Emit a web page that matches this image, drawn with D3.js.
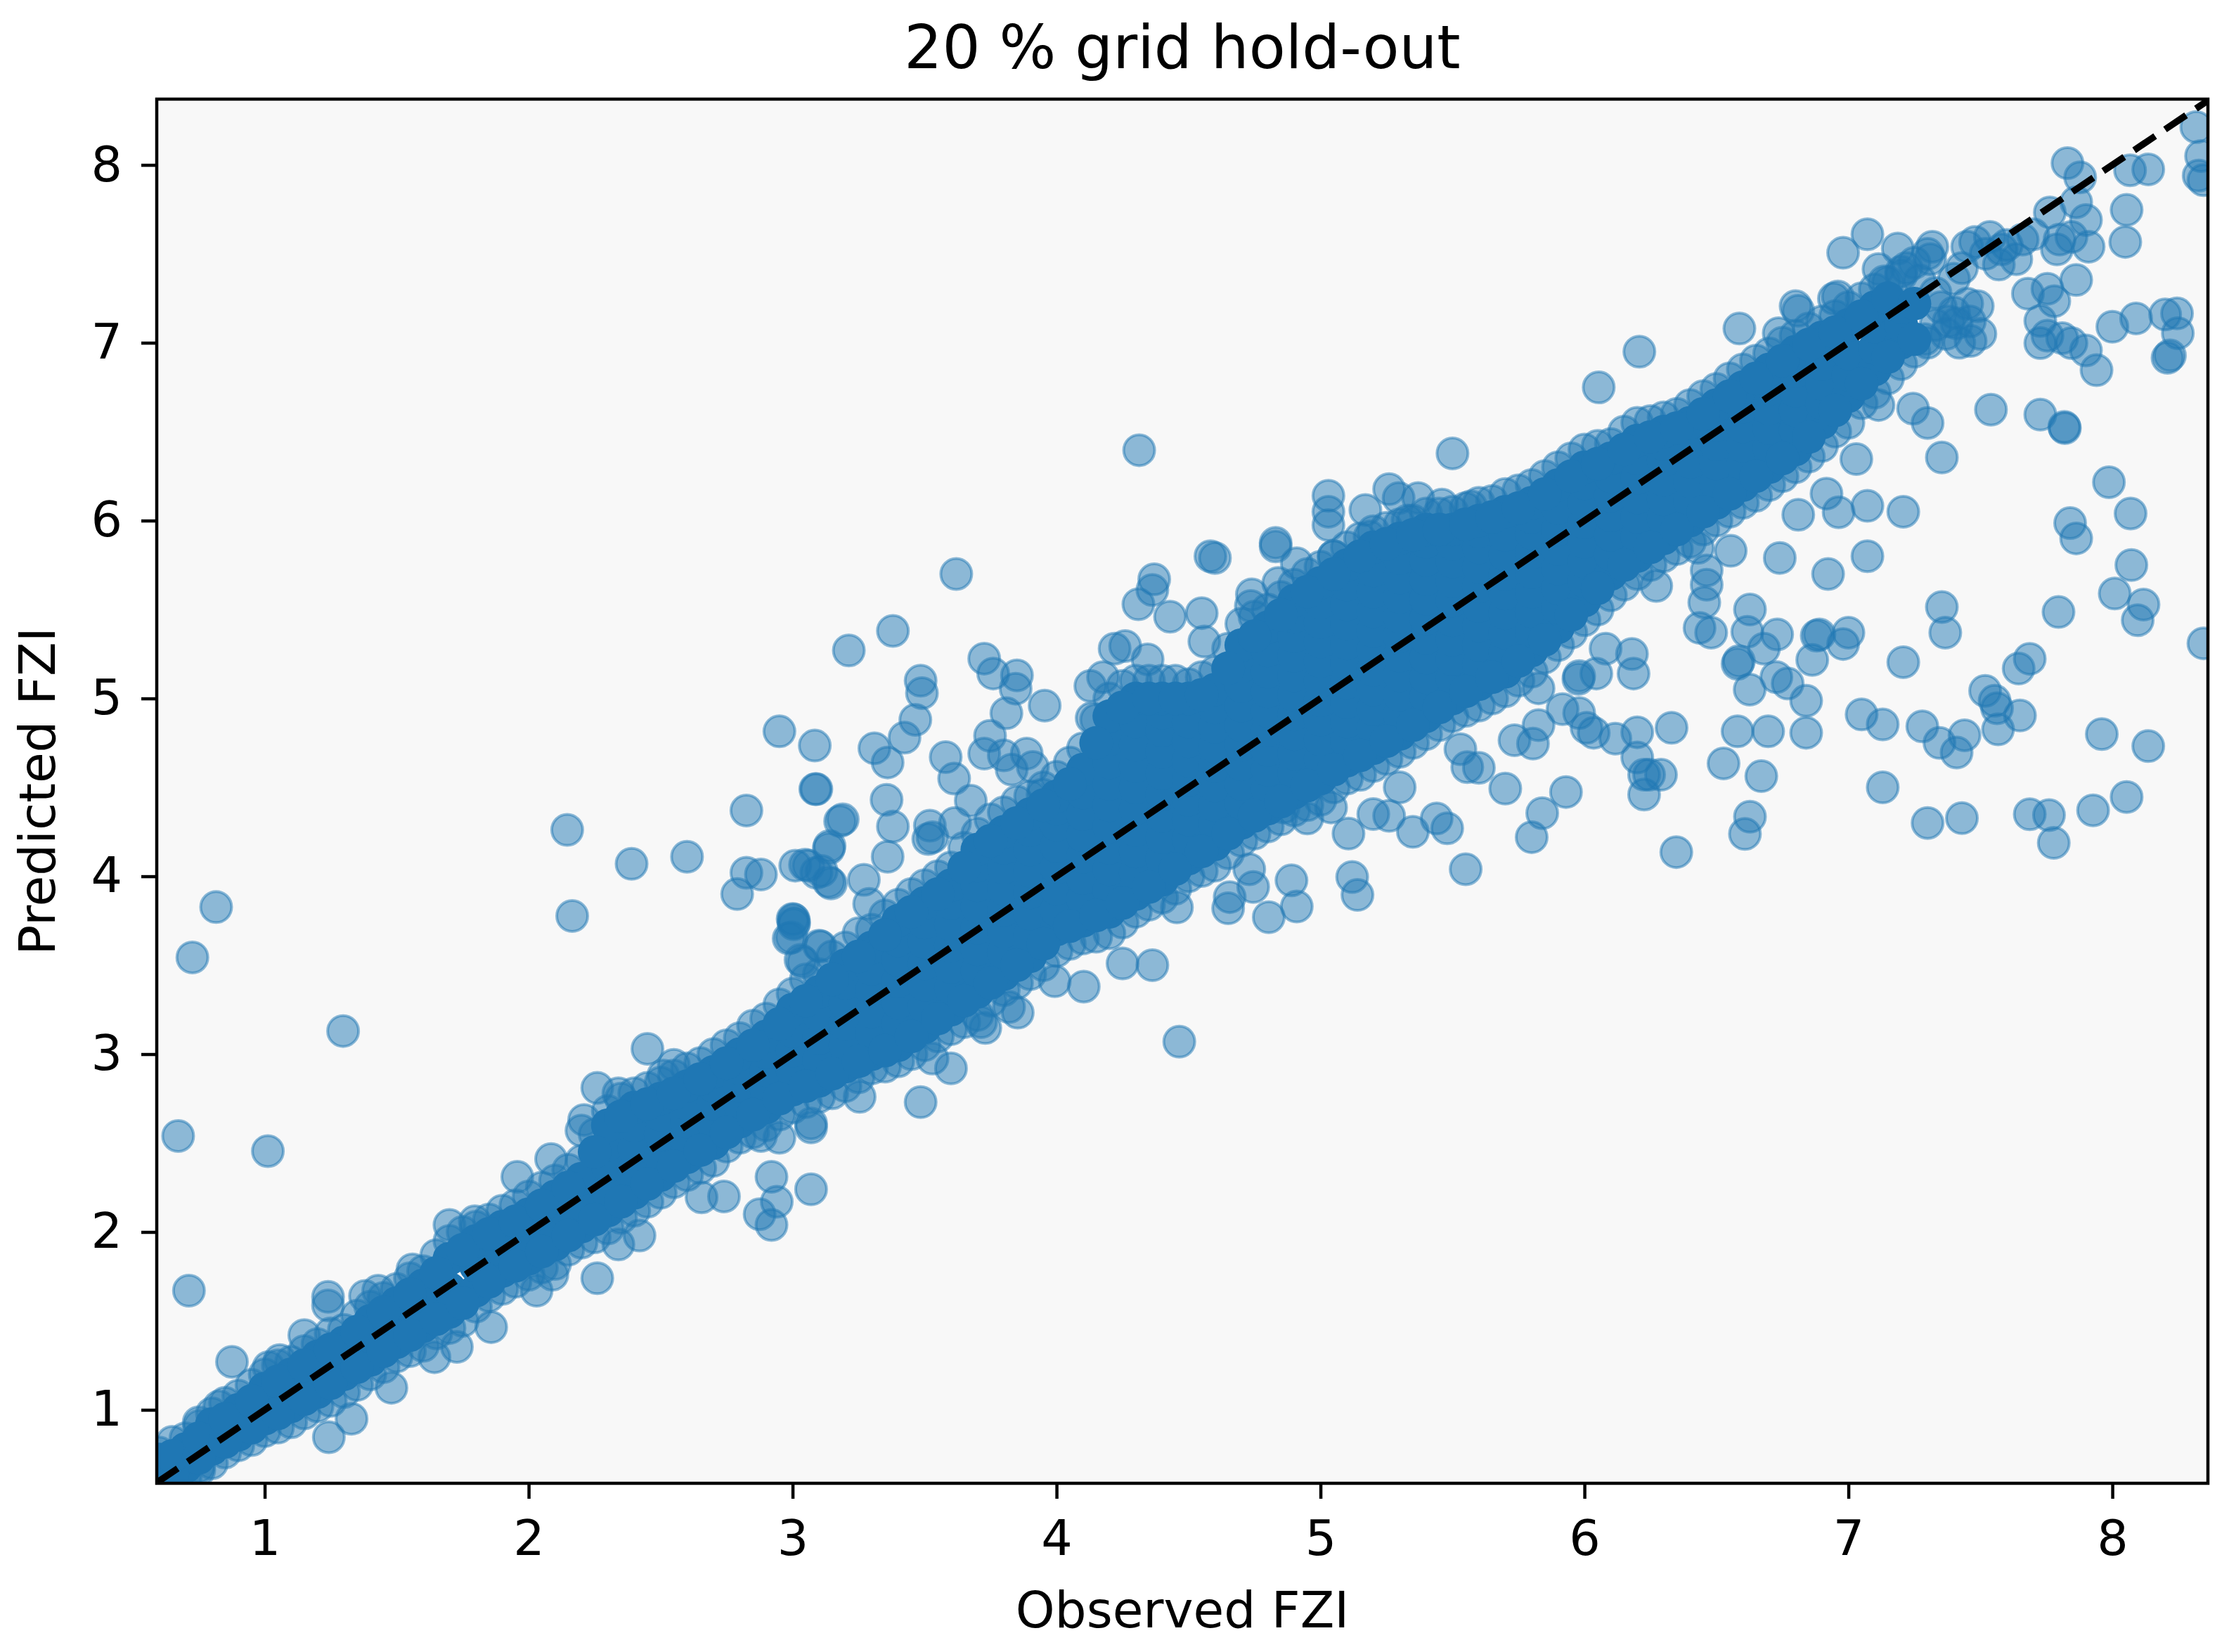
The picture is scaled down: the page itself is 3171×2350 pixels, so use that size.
<!DOCTYPE html>
<html>
<head>
<meta charset="utf-8">
<script src="https://d3js.org/d3.v7.min.js"></script>
<style>
body { margin: 0; background: #fff; }
text { font-family: "DejaVu Sans"; fill: #000; }
</style>
</head>
<body>
<svg id="chart"></svg>
<script>
// values
const xTicks = [1, 2, 3, 4, 5, 6, 7, 8];
const yTicks = [1, 2, 3, 4, 5, 6, 7, 8];
const xDomain = [0.591, 8.362];
const yDomain = [0.587, 8.37];

// single points that stand clear of the band: [observed, predicted]
const sparsePoints = [
  [2.146,4.261],[2.39,4.07],[2.6,4.11],[2.825,4.37],[3.086,4.49],[2.825,4.02],[2.88,4.01],[2.79,3.9],[2.165,3.777],
  [0.816,3.827],[0.726,3.544],[1.297,3.13],[0.672,2.54],[1.012,2.455],[0.713,1.67],[0.876,1.27],[1.15,1.42],
  [1.24,1.635],[1.24,1.587],[2.45,3.03],[2.55,2.94],[2.51,2.88],[2.26,2.81],[2.21,2.63],[2.2,2.57],[2.34,2.78],
  [2.085,2.41],[1.957,2.31],[1.7,2.04],[1.796,2.06],[1.56,1.79],[1.43,1.67],[1.38,1.64],[1.057,1.28],[1.015,1.24],
  [0.828,1.02],[0.752,0.91],[0.65,0.74],[1.329,0.95],[1.243,0.846],[0.752,0.66],[1.48,1.124],[1.643,1.296],
  [1.728,1.354],[1.858,1.465],[2.03,1.67],[2.09,1.76],[2.26,1.74],[2.34,1.93],[2.42,1.98],[2.655,2.195],[2.74,2.2],
  [2.88,2.54],[2.95,2.53],[3.07,2.588],[2.92,2.31],[2.94,2.17],[2.875,2.1],[2.92,2.04],[3.07,2.24],[3.0,3.76],
  [3.006,3.74],[2.985,3.65],[3.01,4.06],[3.06,4.06],[3.137,3.97],[3.137,4.155],[3.18,4.31],[3.11,4.03],[3.03,3.53],
  [3.1,3.61],[4.313,6.396],[5.5,6.378],[3.62,5.7],[3.38,5.38],[3.213,5.27],[2.95,4.815],[3.084,4.735],[3.09,4.49],
  [3.19,4.32],[3.14,4.17],[3.047,4.065],[3.09,4.02],[3.145,3.96],[3.31,4.72],[3.424,4.78],[3.465,4.88],[3.485,5.1],
  [3.49,5.03],[3.36,4.64],[3.356,4.43],[3.38,4.28],[3.36,4.11],[3.27,3.98],[3.29,3.845],[3.52,4.285],[3.514,4.21],
  [3.53,4.22],[3.615,4.3],[3.58,4.67],[3.612,4.55],[3.726,5.224],[3.76,5.14],[3.85,5.13],[3.845,5.055],[3.955,4.96],
  [3.81,4.917],[3.748,4.79],[3.726,4.69],[3.8,4.68],[3.887,4.69],[3.91,4.615],[3.83,4.6],[3.675,4.425],[3.947,4.46],
  [4.128,5.07],[4.176,5.12],[4.22,5.28],[4.26,5.295],[4.345,5.22],[4.133,4.89],[4.31,5.53],[4.37,5.67],[4.363,5.61],
  [4.43,5.46],[4.55,5.48],[4.56,5.32],[4.583,5.8],[4.6,5.79],[4.83,5.875],[4.83,5.855],[4.91,5.76],[4.84,5.65],
  [4.74,5.585],[4.736,5.52],[5.03,6.14],[5.03,6.05],[5.03,5.975],[5.17,6.06],[5.26,6.177],[5.296,6.127],[5.37,6.127],
  [5.46,6.09],[5.33,6.0],[5.57,6.08],[5.186,5.91],[5.05,5.8],[3.004,3.757],[3.004,3.73],[2.996,3.656],[3.04,3.517],
  [3.106,3.606],[4.465,3.07],[4.363,3.5],[4.25,3.51],[4.103,3.38],[3.993,3.41],[3.853,3.233],[3.82,3.265],[3.73,3.147],
  [3.714,3.18],[3.53,2.975],[3.6,2.92],[3.485,2.73],[3.254,2.76],[3.07,2.61],[5.55,4.04],[5.14,3.895],[5.12,3.996],
  [5.106,4.24],[4.91,3.83],[4.89,3.977],[4.804,3.77],[4.745,3.94],[4.656,3.883],[4.65,3.82],[4.456,3.825],[4.73,4.04],
  [5.35,4.25],[5.44,4.325],[5.48,4.27],[5.26,4.34],[5.2,4.35],[4.95,4.325],[5.3,4.5],[5.53,4.715],[5.556,4.614],
  [5.04,4.387],[4.86,4.387],[6.208,6.95],[6.054,6.749],[6.587,7.08],[6.8,7.206],[6.81,7.18],[6.945,7.248],[6.96,7.26],
  [6.736,7.054],[6.98,7.506],[7.072,7.61],[7.187,7.53],[7.318,7.54],[7.114,7.414],[7.136,7.345],[7.2,7.4],[7.31,7.47],
  [7.45,7.54],[7.536,7.595],[7.48,7.567],[7.58,7.525],[7.636,7.47],[7.57,7.44],[7.763,7.733],[7.7,7.61],[7.83,8.01],
  [7.878,7.93],[7.863,7.79],[7.9,7.69],[7.91,7.54],[7.8,7.58],[7.845,7.595],[7.79,7.525],[8.067,7.97],[8.136,7.975],
  [8.054,7.747],[8.049,7.567],[8.318,8.213],[8.336,8.05],[8.327,7.94],[8.345,7.914],[7.863,7.353],[7.754,7.304],
  [7.68,7.276],[7.78,7.234],[7.727,7.123],[7.754,7.04],[7.727,6.998],[7.81,7.026],[7.845,6.998],[7.9,6.957],[7.94,6.846],
  [8.0,7.09],[8.09,7.137],[8.2,7.159],[8.245,7.165],[8.248,7.054],[8.209,6.915],[8.218,6.929],[7.49,7.206],[7.463,7.01],
  [7.41,7.109],[7.54,6.624],[7.727,6.596],[7.818,6.527],[7.82,6.52],[7.245,6.63],[7.3,6.549],[7.354,6.355],[7.114,6.65],
  [7.03,6.346],[6.917,6.152],[6.963,6.047],[7.072,6.083],[7.208,6.05],[6.81,6.033],[6.74,5.79],[6.923,5.7],[7.072,5.8],
  [7.987,6.216],[8.069,6.04],[7.84,5.986],[7.863,5.9],[8.072,5.75],[8.009,5.59],[8.118,5.528],[8.096,5.44],[7.796,5.486],
  [7.354,5.514],[7.367,5.37],[8.345,5.31],[7.208,5.204],[7.687,5.223],[7.645,5.168],[7.518,5.043],[7.554,4.987],
  [7.563,4.945],[7.65,4.904],[7.567,4.826],[7.96,4.8],[8.136,4.732],[8.054,4.446],[7.927,4.371],[7.76,4.344],[7.687,4.349],
  [7.778,4.188],[7.43,4.327],[7.3,4.3],[7.13,4.5],[7.44,4.793],[7.41,4.696],[7.345,4.75],[7.28,4.843],[7.13,4.854],
  [7.05,4.91],[6.84,4.807],[6.84,4.987],[6.77,5.084],[6.727,5.12],[6.626,5.05],[6.585,5.21],[6.58,5.195],[6.68,5.28],
  [6.73,5.36],[6.863,5.217],[6.98,5.306],[7.0,5.37],[6.88,5.353],[6.89,5.36],[6.617,5.375],[6.627,5.5],[6.48,5.37],
  [6.436,5.397],[6.454,5.54],[6.463,5.64],[6.463,5.72],[6.554,5.83],[6.43,5.847],[6.272,5.633],[6.58,4.815],[6.696,4.815],
  [6.527,4.635],[6.67,4.563],[6.627,4.335],[6.608,4.238],[6.348,4.136],[6.226,4.46],[6.29,4.571],[6.245,4.571],[6.226,4.571],
  [6.2,4.668],[6.2,4.81],[6.33,4.835],[6.117,4.774],[6.035,4.807],[6.008,4.835],[5.98,4.918],[5.917,4.94],[5.805,4.746],
  [5.735,4.765],[5.7,4.493],[5.93,4.474],[5.84,4.355],[5.8,4.22],[6.186,5.14],[6.18,5.25],[5.977,5.11],[5.98,5.126],
  [6.045,5.14],[5.826,5.057],[5.826,4.85],[6.08,5.28],[5.6,4.61],
  [7.33,7.1],[7.37,7.05],[7.4,7.17],[7.42,7.0],[7.46,7.12],[7.35,7.2],[7.5,7.05],[7.29,7.02],[7.45,7.22],[7.38,7.12],
  [7.33,7.28],[7.27,7.35],[7.22,7.42],[7.4,7.36],[7.43,7.42],[7.52,7.5],[7.6,7.55],[7.66,7.58]
];

// overplotted band, read column by column along the observed axis
const bandObs = [
  0.6,0.7,0.8,0.9,1.0,1.1,1.2,1.3,1.4,1.5,1.6,1.7,1.8,1.9,2.0,2.1,2.2,2.3,2.4,2.5,2.6,2.7,2.8,2.9,
  3.0,3.1,3.2,3.3,3.4,3.5,3.6,3.7,3.8,3.9,4.0,4.1,4.2,4.3,4.4,4.5,4.6,4.7,4.8,4.9,5.0,5.1,5.2,5.3,
  5.4,5.5,5.6,5.7,5.8,5.9,6.0,6.1,6.2,6.3,6.4,6.5,6.6,6.7,6.8,6.9,7.0,7.1,7.2,7.3
];
const bandPred = [
  [0.6,0.72],[0.68,0.78],[0.78,0.92],[0.86,1.0],[0.95,1.12],[1.02,1.12,1.2],[1.1,1.21,1.3],[1.2,1.29,1.38],
  [1.28,1.4,1.5],[1.38,1.49,1.6],[1.47,1.58,1.7],[1.55,1.68,1.85],[1.67,1.81,1.95],[1.78,1.9,2.03],
  [1.85,1.97,2.1],[1.93,2.06,2.2],[2.03,2.16,2.3],[2.12,2.24,2.37,2.49,2.6],[2.22,2.35,2.47,2.6,2.7],
  [2.32,2.43,2.55,2.66,2.75],[2.42,2.52,2.62,2.72,2.82],[2.5,2.61,2.72,2.82,2.9],[2.62,2.72,2.82,2.92,3.0],
  [2.7,2.81,2.91,3.01,3.1],[2.8,2.91,3.02,3.13,3.25],[2.85,2.97,3.09,3.22,3.35],[2.93,3.05,3.17,3.29,3.4,3.5],
  [3.0,3.12,3.24,3.36,3.48,3.6],[3.05,3.17,3.29,3.41,3.53,3.64,3.75],[3.15,3.27,3.39,3.51,3.63,3.74,3.85],
  [3.25,3.37,3.49,3.61,3.73,3.85,3.95],[3.35,3.47,3.59,3.71,3.83,3.95,4.06,4.15],
  [3.45,3.57,3.69,3.81,3.93,4.05,4.16,4.25],[3.55,3.67,3.79,3.91,4.03,4.15,4.26,4.35],
  [3.7,3.81,3.93,4.05,4.17,4.29,4.38,4.45],[3.75,3.87,3.99,4.11,4.23,4.35,4.47,4.6],
  [3.8,3.92,4.04,4.16,4.28,4.4,4.52,4.64,4.77,4.9],[3.9,4.02,4.14,4.26,4.38,4.5,4.62,4.74,4.87,5.0],
  [3.98,4.1,4.22,4.34,4.46,4.58,4.7,4.82,4.92,5.0],[4.1,4.21,4.32,4.43,4.54,4.65,4.76,4.87,5.0],
  [4.18,4.29,4.4,4.51,4.62,4.73,4.84,4.95,5.05],[4.3,4.41,4.52,4.63,4.74,4.85,4.96,5.07,5.18,5.3],
  [4.38,4.49,4.6,4.71,4.82,4.93,5.04,5.15,5.27,5.4],[4.47,4.58,4.69,4.8,4.91,5.02,5.13,5.24,5.35,5.46,5.55],
  [4.55,4.66,4.77,4.88,4.99,5.1,5.21,5.32,5.43,5.54,5.65],[4.65,4.76,4.87,4.98,5.09,5.2,5.31,5.42,5.53,5.64,5.75],
  [4.72,4.83,4.94,5.05,5.16,5.27,5.38,5.49,5.6,5.72,5.85],[4.8,4.91,5.02,5.13,5.24,5.35,5.46,5.57,5.68,5.79,5.9],
  [4.9,5.01,5.12,5.23,5.34,5.45,5.56,5.67,5.78,5.88,5.95],[5.0,5.11,5.22,5.33,5.44,5.55,5.66,5.77,5.87,5.95],
  [5.08,5.19,5.3,5.41,5.52,5.63,5.74,5.85,5.94,6.0],[5.15,5.26,5.37,5.48,5.59,5.7,5.81,5.92,6.05],
  [5.27,5.38,5.49,5.6,5.71,5.82,5.93,6.02,6.1],[5.4,5.51,5.62,5.73,5.84,5.95,6.07,6.2],
  [5.55,5.66,5.77,5.88,5.99,6.1,6.21,6.3],[5.7,5.81,5.92,6.03,6.14,6.25,6.35],[5.8,5.91,6.02,6.13,6.24,6.35,6.45],
  [5.9,6.01,6.12,6.23,6.34,6.43,6.5],[6.0,6.11,6.22,6.33,6.44,6.55],[6.1,6.21,6.32,6.43,6.54,6.65],
  [6.2,6.31,6.42,6.53,6.64,6.75],[6.3,6.41,6.52,6.63,6.74,6.85],[6.4,6.51,6.62,6.73,6.84,6.95],
  [6.55,6.66,6.77,6.88,7.03],[6.7,6.82,6.94,7.1],[6.85,6.97,7.09,7.2],[7.0,7.1,7.2],[]
];
const rimLow = [
  0.56,0.62,0.7,0.8,0.88,0.93,1.02,1.1,1.2,1.3,1.36,1.46,1.58,1.68,1.76,1.82,1.94,2.02,2.12,2.22,2.32,2.4,2.53,2.6,
  2.7,2.76,2.82,2.92,2.96,3.05,3.14,3.22,3.36,3.45,3.58,3.65,3.68,3.8,3.88,4.0,4.06,4.2,4.28,4.37,4.43,4.55,4.62,4.7,
  4.8,4.9,4.96,5.04,5.15,5.3,5.44,5.58,5.7,5.8,5.88,6.0,6.1,6.2,6.3,6.42,6.55,6.72,6.88,7.0
];
const rimHigh = [
  0.76,0.84,0.98,1.08,1.2,1.27,1.37,1.45,1.58,1.68,1.78,1.95,2.03,2.12,2.2,2.29,2.4,2.68,2.78,2.84,2.92,3.0,3.09,3.2,
  3.34,3.45,3.6,3.7,3.84,3.95,4.05,4.24,4.36,4.45,4.56,4.72,5.0,5.1,5.1,5.08,5.15,5.42,5.5,5.64,5.74,5.85,5.94,5.98,
  6.04,6.05,6.1,6.15,6.2,6.3,6.4,6.43,6.55,6.58,6.65,6.74,6.85,6.94,7.04,7.12,7.2,7.3,7.38,7.5
];

// the same edges read again half way between the columns above
const edgeObs = [
  0.65,0.75,0.85,0.95,1.05,1.15,1.25,1.35,1.45,1.55,
  1.65,1.75,1.85,1.95,2.05,2.15,2.25,2.35,2.45,2.55,
  2.65,2.75,2.85,2.95,3.05,3.15,3.25,3.35,3.45,3.55,
  3.65,3.75,3.85,3.95,4.05,4.15,4.25,4.35,4.45,4.55,
  4.65,4.75,4.85,4.95,5.05,5.15,5.25,5.35,5.45,5.55,
  5.65,5.75,5.85,5.95,6.05,6.15,6.25,6.35,6.45,6.55,
  6.65,6.75,6.85,6.95,7.05,7.15,7.25
];
const edgeLow = [
  0.64,0.73,0.82,0.9,0.98,1.06,1.15,1.24,1.33,1.42,
  1.51,1.6,1.72,1.81,1.89,1.98,2.07,2.17,2.27,2.37,
  2.46,2.56,2.66,2.75,2.82,2.89,2.96,3.02,3.1,3.2,
  3.3,3.4,3.5,3.62,3.72,3.78,3.85,3.94,4.04,4.14,
  4.24,4.34,4.42,4.51,4.6,4.68,4.76,4.85,4.95,5.04,
  5.12,5.21,5.33,5.47,5.62,5.75,5.85,5.95,6.05,6.15,
  6.25,6.35,6.47,6.62,6.77,6.92,7.02
];
const edgeHigh = [
  0.74,0.84,0.95,1.05,1.16,1.25,1.34,1.44,1.55,1.65,
  1.77,1.9,1.99,2.06,2.15,2.25,2.45,2.65,2.72,2.78,
  2.86,2.95,3.05,3.17,3.3,3.42,3.55,3.67,3.8,3.9,
  4.05,4.2,4.3,4.4,4.52,4.75,4.95,5.0,5.0,5.02,
  5.17,5.35,5.47,5.6,5.7,5.8,5.87,5.92,5.95,5.98,
  6.02,6.07,6.15,6.25,6.32,6.4,6.47,6.52,6.6,6.7,
  6.8,6.9,6.99,7.06,7.15,7.25,7.22
];
const rim2Low = [
  0.6,0.68,0.76,0.83,0.9,0.98,1.05,1.14,1.24,1.33,
  1.43,1.5,1.64,1.72,1.8,1.9,1.97,2.08,2.17,2.28,
  2.36,2.48,2.56,2.66,2.73,2.78,2.87,2.93,3.0,3.1,
  3.18,3.3,3.4,3.5,3.62,3.66,3.74,3.84,3.93,4.03,
  4.13,4.24,4.32,4.4,4.5,4.57,4.66,4.75,4.85,4.93,
  5.0,5.1,5.23,5.37,5.5,5.64,5.75,5.84,5.95,6.05,
  6.14,6.25,6.36,6.5,6.66,6.8,6.95
];
const rim2High = [
  0.82,0.93,1.04,1.14,1.25,1.33,1.43,1.53,1.63,1.74,
  1.87,2.0,2.07,2.15,2.25,2.35,2.55,2.75,2.81,2.88,
  2.95,3.05,3.16,3.28,3.42,3.55,3.68,3.78,3.9,4.0,
  4.16,4.32,4.42,4.5,4.64,4.88,5.07,5.1,5.1,5.12,
  5.28,5.46,5.57,5.7,5.8,5.9,5.96,6.0,6.04,6.07,
  6.11,6.17,6.25,6.35,6.42,6.5,6.56,6.6,6.7,6.8,
  6.9,7.0,7.08,7.15,7.25,7.34,7.45
];

const width = 3171;
const height = 2350;
const plot = { left: 223, right: 3141, top: 141, bottom: 2110 };
const color = "#1f77b4";

const svg = d3.select("#chart")
  .attr("width", width)
  .attr("height", height)
  .style("display", "block");

const x = d3.scaleLinear().domain(xDomain).range([plot.left, plot.right]);
const y = d3.scaleLinear().domain(yDomain).range([plot.bottom, plot.top]);

svg.append("defs").append("clipPath").attr("id", "plot-clip")
  .append("rect")
  .attr("x", plot.left).attr("y", plot.top)
  .attr("width", plot.right - plot.left).attr("height", plot.bottom - plot.top);

svg.append("rect")
  .attr("x", plot.left).attr("y", plot.top)
  .attr("width", plot.right - plot.left).attr("height", plot.bottom - plot.top)
  .attr("fill", "#f8f8f8");

const marks = svg.append("g").attr("clip-path", "url(#plot-clip)");

// rim of the band plus the loose points, half transparent
const rimPoints = bandObs.flatMap((d, i) => [[d, rimLow[i]], [d, rimHigh[i]]])
  .concat(edgeObs.flatMap((d, i) => [[d, rim2Low[i]], [d, rim2High[i]]]));
marks.append("g")
  .selectAll("circle")
  .data(sparsePoints.concat(rimPoints))
  .join("circle")
  .attr("cx", d => x(d[0]))
  .attr("cy", d => y(d[1]))
  .attr("r", 22)
  .attr("fill", color)
  .attr("fill-opacity", 0.5)
  .attr("stroke", color)
  .attr("stroke-opacity", 0.5)
  .attr("stroke-width", 4);

// inside of the band is saturated by overplotting
const corePoints = bandObs.flatMap((d, i) => bandPred[i].map(v => [d, v]))
  .concat(edgeObs.flatMap((d, i) => [[d, edgeLow[i]], [d, edgeHigh[i]]]));
marks.append("g")
  .selectAll("circle")
  .data(corePoints)
  .join("circle")
  .attr("cx", d => x(d[0]))
  .attr("cy", d => y(d[1]))
  .attr("r", 24)
  .attr("fill", color);

// 1:1 line
marks.append("line")
  .attr("x1", x(xDomain[0])).attr("y1", y(xDomain[0]))
  .attr("x2", x(xDomain[1])).attr("y2", y(xDomain[1]))
  .attr("stroke", "#000")
  .attr("stroke-width", 9.5)
  .attr("stroke-dasharray", "36 17");

// axes
const xAxis = svg.append("g")
  .attr("transform", `translate(0,${plot.bottom})`)
  .call(d3.axisBottom(x).tickValues(xTicks).tickSizeOuter(0).tickSize(22).tickPadding(30).tickFormat(d3.format("d")));
const yAxis = svg.append("g")
  .attr("transform", `translate(${plot.left},0)`)
  .call(d3.axisLeft(y).tickValues(yTicks).tickSizeOuter(0).tickSize(22).tickPadding(27).tickFormat(d3.format("d")));

[xAxis, yAxis].forEach(a => {
  a.select(".domain").remove();
  a.selectAll("line").attr("stroke", "#000").attr("stroke-width", 4.5);
  a.selectAll("text").style("font-size", "70px").style("font-family", "DejaVu Sans");
});

// frame
svg.append("rect")
  .attr("x", plot.left).attr("y", plot.top)
  .attr("width", plot.right - plot.left).attr("height", plot.bottom - plot.top)
  .attr("fill", "none")
  .attr("stroke", "#000")
  .attr("stroke-width", 4.5);

svg.append("text")
  .attr("x", (plot.left + plot.right) / 2).attr("y", 97)
  .attr("text-anchor", "middle")
  .style("font-size", "85px")
  .text("20 % grid hold-out");

svg.append("text")
  .attr("x", (plot.left + plot.right) / 2).attr("y", 2315)
  .attr("text-anchor", "middle")
  .style("font-size", "71px")
  .text("Observed FZI");

svg.append("text")
  .attr("transform", `translate(78,${(plot.top + plot.bottom) / 2}) rotate(-90)`)
  .attr("text-anchor", "middle")
  .style("font-size", "71px")
  .text("Predicted FZI");
</script>
</body>
</html>
